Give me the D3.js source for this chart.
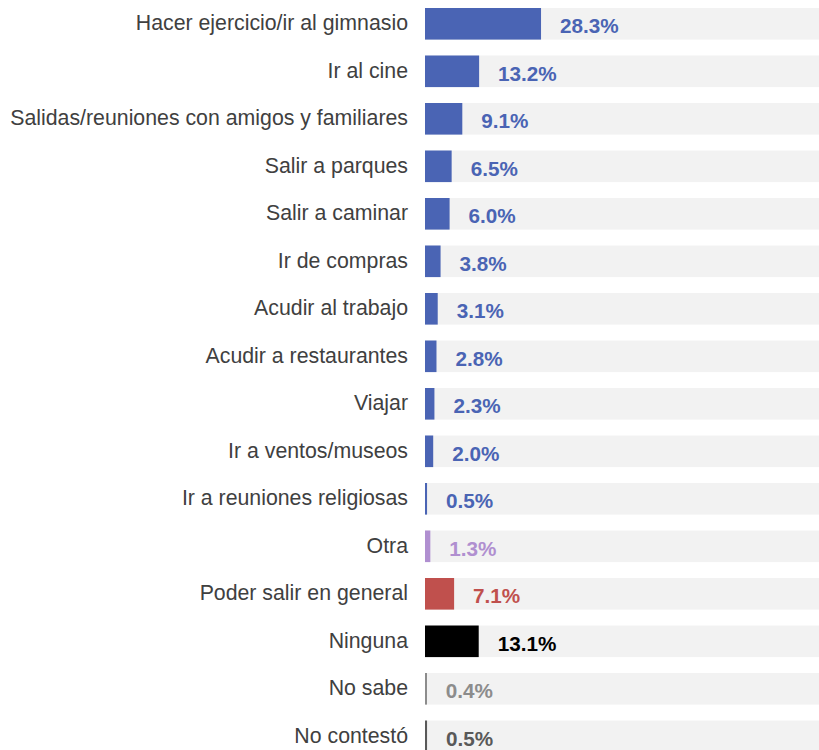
<!DOCTYPE html>
<html>
<head>
<meta charset="utf-8">
<script src="https://cdn.jsdelivr.net/npm/d3@7"></script>
<style>
  html, body { margin: 0; padding: 0; background: #fff; }
  svg { display: block; }
</style>
</head>
<body>
<svg id="chart"></svg>
<script>
'use strict';

var categories = [
    "Hacer ejercicio/ir al gimnasio",
    "Ir al cine",
    "Salidas/reuniones con amigos y familiares",
    "Salir a parques",
    "Salir a caminar",
    "Ir de compras",
    "Acudir al trabajo",
    "Acudir a restaurantes",
    "Viajar",
    "Ir a ventos/museos",
    "Ir a reuniones religiosas",
    "Otra",
    "Poder salir en general",
    "Ninguna",
    "No sabe",
    "No contestó"
]
var values = [28.3, 13.2, 9.1, 6.5, 6.0, 3.8, 3.1, 2.8, 2.3, 2.0, 0.5, 1.3, 7.1, 13.1, 0.4, 0.5]
var groups = ["act", "act", "act", "act", "act", "act", "act", "act", "act", "act", "act",
    "otra", "general", "ninguna", "nosabe", "nocontesto"]

var chart = (function() {
    var width = 819
    var height = 750
    var left = 425
    var font = "'Liberation Sans', Arial, sans-serif"

    var barColor = {
        act: "#4a64b4",
        otra: "#b08fd0",
        general: "#c0504d",
        ninguna: "#000000",
        nosabe: "#8c8c8c",
        nocontesto: "#595959"
    }

    function render() {
        var data = categories.map(function(c, i) {
            return { name: c, value: values[i], group: groups[i] }
        })

        var svg = d3.select("#chart")
            .attr("width", width)
            .attr("height", height)

        var x = d3.scaleLinear()
            .domain([0, 100])
            .range([left, left + 410])

        var y = d3.scaleBand()
            .domain(categories)
            .range([8, 8 + 15 * 47.5 + 31.6])
            .paddingInner(0.335)

        var row = svg.append("g")
            .selectAll("g")
            .data(data)
            .enter().append("g")
            .attr("transform", function(d) { return "translate(0," + y(d.name) + ")"; })

        // gray track behind each bar
        row.append("rect")
            .attr("x", x(0))
            .attr("width", x(100) - x(0))
            .attr("height", y.bandwidth())
            .attr("fill", "#f2f2f2")

        row.append("rect")
            .attr("x", x(0))
            .attr("width", function(d) { return Math.max(x(d.value) - x(0), 2); })
            .attr("height", y.bandwidth())
            .attr("fill", function(d) { return barColor[d.group]; })

        row.append("text")
            .attr("x", 408)
            .attr("y", y.bandwidth() / 2 - 1)
            .attr("dy", "0.35em")
            .attr("text-anchor", "end")
            .attr("font-family", font)
            .attr("font-size", 21.3)
            .attr("fill", "#404040")
            .text(function(d) { return d.name; })

        row.append("text")
            .attr("x", function(d) { return x(d.value) + 19; })
            .attr("y", y.bandwidth() / 2 + 2)
            .attr("dy", "0.35em")
            .attr("font-family", font)
            .attr("font-size", 20.7)
            .attr("font-weight", "bold")
            .attr("fill", function(d) { return barColor[d.group]; })
            .text(function(d) { return d.value.toFixed(1) + "%"; })
    }

    return {
        render
    }
}())

chart.render()
</script>
</body>
</html>
